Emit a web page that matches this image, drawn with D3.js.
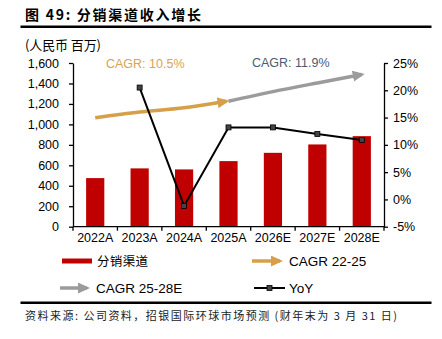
<!DOCTYPE html>
<html>
<head>
<meta charset="utf-8">
<style>
body { margin: 0; background: #fff; }
text { font-family: "Liberation Sans", Arial, sans-serif; fill: #000; }
.cjk { font-family: "Noto Sans CJK SC", sans-serif; }
.axis path, .axis line { stroke: #000; stroke-width: 1.3; }
.axis text { font-size: 12.5px; }
</style>
<script src="https://cdn.jsdelivr.net/npm/d3@7/dist/d3.min.js"></script>
</head>
<body>
<svg width="442" height="339"></svg>
<script>

var years = ["2022A", "2023A", "2024A", "2025A", "2026E", "2027E", "2028E"];
var revenue = [475, 570, 560, 641, 722, 804, 885];
var yoy = [null, 20.5, -1.2, 13.2, 13.2, 12.0, 10.9];
var cagrYears1 = ["2022A", "2023A", "2024A", "2025A"];
var cagrPath1 = [1065, 1120, 1162, 1226];
var cagrYears2 = ["2025A", "2026E", "2027E", "2028E"];
var cagrPath2 = [1226, 1320, 1405, 1487];
var leftTicks = [0, 200, 400, 600, 800, 1000, 1200, 1400, 1600];
var rightTicks = [-5, 0, 5, 10, 15, 20, 25];

var svg = d3.select("svg"),
    plotL = 73, plotR = 384, plotT = 63, plotB = 226.7;

var x = d3.scaleBand().domain(years).range([plotL, plotR])
    .paddingInner(0.59).paddingOuter(0.295);
var y = d3.scaleLinear().domain([0, 1600]).range([plotB, plotT]);
var y2 = d3.scaleLinear().domain([-5, 25]).range([plotB, plotT]);
var cx = function(d) { return x(d) + x.bandwidth() / 2; };

var orange = "#D6A04A", grey = "#9B9B9B", red = "#C00000";

// arrow heads
var defs = svg.append("defs");
function arrowHead(id, color) {
  defs.append("marker")
      .attr("id", id)
      .attr("markerUnits", "userSpaceOnUse")
      .attr("markerWidth", 12).attr("markerHeight", 11)
      .attr("refX", 9).attr("refY", 5.5)
      .attr("orient", "auto")
    .append("path")
      .attr("d", "M0,0 L12,5.5 L0,11 z")
      .attr("fill", color);
}
arrowHead("arrOrange", orange);
arrowHead("arrGrey", grey);

// title
svg.append("text").attr("class", "cjk")
    .attr("x", 25).attr("y", 20)
    .attr("font-size", "14px").attr("font-weight", "bold")
    .attr("textLength", 176).attr("lengthAdjust", "spacing")
    .text("图 49: 分销渠道收入增长");
svg.append("line").attr("x1", 20.5).attr("x2", 431.5).attr("y1", 26.7).attr("y2", 26.7)
    .attr("stroke", "#000").attr("stroke-width", 2.5);
svg.append("text").attr("class", "cjk")
    .attr("x", 25).attr("y", 50)
    .attr("font-size", "13px")
    .attr("textLength", 76).attr("lengthAdjust", "spacing")
    .text("(人民币 百万)");

// bars
svg.selectAll(".bar")
  .data(revenue)
  .enter().append("rect")
    .attr("class", "bar")
    .attr("x", function(d, i) { return x(years[i]); })
    .attr("y", function(d) { return y(d); })
    .attr("width", x.bandwidth())
    .attr("height", function(d) { return plotB - y(d); })
    .attr("fill", red);

// axes
svg.append("g")
    .attr("class", "axis")
    .attr("transform", "translate(" + plotL + ",0)")
    .call(d3.axisLeft(y).tickValues(leftTicks).tickSize(4).tickSizeOuter(0).tickPadding(10)
      .tickFormat(d3.format(",")));

svg.append("g")
    .attr("class", "axis")
    .attr("transform", "translate(" + plotR + ",0)")
    .call(d3.axisRight(y2).tickValues(rightTicks).tickSize(4).tickSizeOuter(0).tickPadding(5)
      .tickFormat(function(d) { return d + "%"; }));

var xa = svg.append("g").attr("class", "axis");
xa.append("line").attr("x1", plotL).attr("x2", plotR).attr("y1", plotB).attr("y2", plotB);
xa.selectAll(".xt")
  .data(years.concat(["end"]))
  .enter().append("line")
    .attr("x1", function(d, i) { return plotL + i * x.step(); })
    .attr("x2", function(d, i) { return plotL + i * x.step(); })
    .attr("y1", plotB).attr("y2", plotB + 4);
xa.selectAll(".xl")
  .data(years)
  .enter().append("text")
    .attr("x", cx)
    .attr("y", plotB + 15)
    .attr("text-anchor", "middle")
    .attr("font-size", "13.5px")
    .text(function(d) { return d; });

// CAGR arrows
var line = d3.line().curve(d3.curveMonotoneX);
svg.append("path")
    .attr("d", line(cagrYears1.map(function(d, i) { return [cx(d) - (i == 3 ? 2 : 0), y(cagrPath1[i])]; })))
    .attr("fill", "none").attr("stroke", orange).attr("stroke-width", 3.5)
    .attr("marker-end", "url(#arrOrange)");
svg.append("path")
    .attr("d", line(cagrYears2.map(function(d, i) { return [cx(d), y(cagrPath2[i])]; })))
    .attr("fill", "none").attr("stroke", grey).attr("stroke-width", 3.5)
    .attr("marker-end", "url(#arrGrey)");

svg.append("text").attr("x", 106).attr("y", 68).attr("font-size", "12.5px")
    .style("fill", "#D9A352").text("CAGR: 10.5%");
svg.append("text").attr("x", 252).attr("y", 67).attr("font-size", "12.5px")
    .style("fill", "#4E5A72").text("CAGR: 11.9%");

// YoY line
var yoyPts = years.map(function(d, i) { return {year: d, v: yoy[i]}; })
    .filter(function(d) { return d.v !== null; });
svg.append("path")
    .attr("d", d3.line()(yoyPts.map(function(d) { return [cx(d.year), y2(d.v)]; })))
    .attr("fill", "none").attr("stroke", "#000").attr("stroke-width", 2);
svg.selectAll(".mk")
  .data(yoyPts)
  .enter().append("rect")
    .attr("x", function(d) { return cx(d.year) - 2.5; })
    .attr("y", function(d) { return y2(d.v) - 2.5; })
    .attr("width", 5).attr("height", 5)
    .attr("fill", "#444").attr("stroke", "#000").attr("stroke-width", 0.8);

// legend
var lg = svg.append("g");
lg.append("rect").attr("x", 62).attr("y", 258.5).attr("width", 30).attr("height", 5).attr("fill", red);
lg.append("text").attr("class", "cjk").attr("x", 97).attr("y", 265.5).attr("font-size", "12.5px")
    .attr("textLength", 51).attr("lengthAdjust", "spacing").text("分销渠道");
lg.append("line").attr("x1", 252).attr("x2", 280).attr("y1", 261).attr("y2", 261)
    .attr("stroke", orange).attr("stroke-width", 3.5).attr("marker-end", "url(#arrOrange)");
lg.append("text").attr("x", 289).attr("y", 266).attr("font-size", "13.5px").text("CAGR 22-25");
lg.append("line").attr("x1", 60).attr("x2", 87).attr("y1", 288).attr("y2", 288)
    .attr("stroke", grey).attr("stroke-width", 3.5).attr("marker-end", "url(#arrGrey)");
lg.append("text").attr("x", 96).attr("y", 293).attr("font-size", "13.5px").text("CAGR 25-28E");
lg.append("line").attr("x1", 254).attr("x2", 285).attr("y1", 288).attr("y2", 288)
    .attr("stroke", "#000").attr("stroke-width", 2);
lg.append("rect").attr("x", 267).attr("y", 285.5).attr("width", 5).attr("height", 5)
    .attr("fill", "#444").attr("stroke", "#000").attr("stroke-width", 0.8);
lg.append("text").attr("x", 289).attr("y", 293).attr("font-size", "13.5px").text("YoY");

// footer
svg.append("line").attr("x1", 20.5).attr("x2", 431.5).attr("y1", 302.7).attr("y2", 302.7)
    .attr("stroke", "#000").attr("stroke-width", 2.5);
svg.append("text").attr("class", "cjk")
    .attr("x", 25).attr("y", 319.5)
    .attr("font-size", "11px")
    .attr("textLength", 372).attr("lengthAdjust", "spacing")
    .style("fill", "#222")
    .text("资料来源: 公司资料，招银国际环球市场预测 (财年末为 3 月 31 日)");

</script>
</body>
</html>
